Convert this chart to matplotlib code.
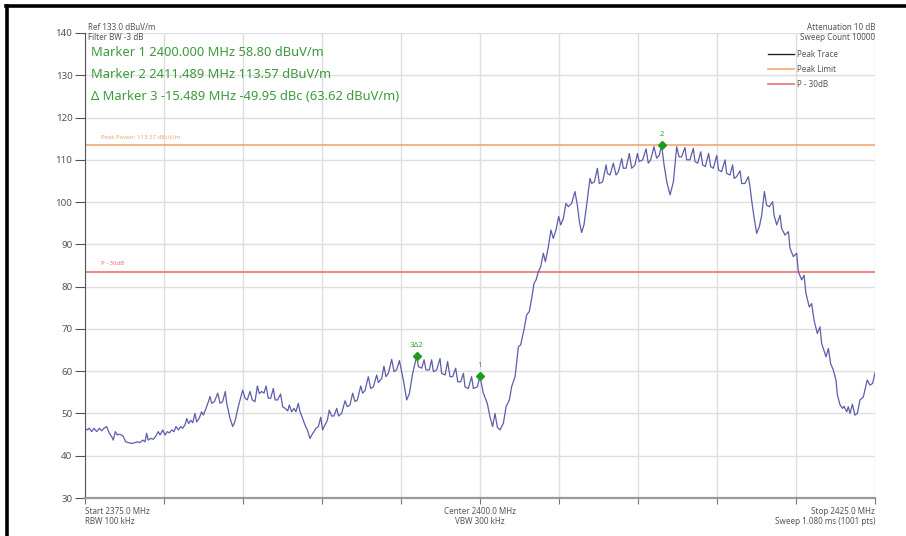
"""
Espectro medido 2375-2425 MHz (Peak Trace) com marcadores e linhas de limite.
Saída: out.png (906x536)
"""

import matplotlib.pyplot as plt
from matplotlib.lines import Line2D

# ------------------------------------------------------------------
# Dados (lidos da captura do analisador)
# ------------------------------------------------------------------
FREQ_MHZ = [
    2375.00, 2375.15, 2375.27, 2375.42, 2375.57, 2375.74, 2375.91, 2376.06, 2376.20, 2376.37,
    2376.54, 2376.69, 2376.79, 2376.92, 2377.05, 2377.17, 2377.32, 2377.43, 2377.57, 2377.74,
    2377.95, 2378.17, 2378.31, 2378.48, 2378.65, 2378.80, 2378.90, 2379.00, 2379.16, 2379.33,
    2379.49, 2379.64, 2379.75, 2379.92, 2380.06, 2380.21, 2380.34, 2380.49, 2380.63, 2380.76,
    2380.91, 2381.06, 2381.18, 2381.33, 2381.44, 2381.56, 2381.69, 2381.82, 2381.96, 2382.07,
    2382.22, 2382.38, 2382.49, 2382.66, 2382.81, 2382.91, 2383.02, 2383.19, 2383.40, 2383.55,
    2383.71, 2383.88, 2383.97, 2384.18, 2384.35, 2384.49, 2384.70,
    2384.98, 2385.13, 2385.27, 2385.44, 2385.59, 2385.76, 2385.91, 2386.03, 2386.18, 2386.33,
    2386.46, 2386.60, 2386.75, 2386.92, 2387.03, 2387.19, 2387.38, 2387.51, 2387.66, 2387.83,
    2387.93, 2388.08, 2388.23, 2388.35, 2388.50, 2388.61, 2388.78, 2388.92, 2389.07, 2389.24,
    2389.35, 2389.49, 2389.62, 2389.77, 2389.92, 2390.04, 2390.19, 2390.34, 2390.46, 2390.61,
    2390.76, 2390.93, 2391.05, 2391.24, 2391.46, 2391.60, 2391.77, 2391.94, 2392.09, 2392.24,
    2392.45, 2392.57, 2392.72, 2392.93, 2393.08, 2393.25, 2393.46, 2393.57, 2393.78, 2393.92,
    2394.05, 2394.20, 2394.41, 2394.56, 2394.73, 2394.90,
    2395.15, 2395.36, 2395.53, 2395.74, 2396.00, 2396.10, 2396.31, 2396.46, 2396.58, 2396.79,
    2396.94, 2397.05, 2397.26, 2397.47, 2397.57, 2397.79, 2397.95, 2398.10, 2398.27, 2398.46,
    2398.59, 2398.78, 2398.95, 2399.05, 2399.26, 2399.47, 2399.58, 2399.83, 2400.00, 2400.21,
    2400.46, 2400.63, 2400.80, 2400.95, 2401.10, 2401.27, 2401.48, 2401.65, 2401.86, 2402.00,
    2402.22, 2402.43, 2402.57, 2402.78, 2402.95, 2403.12, 2403.27, 2403.42, 2403.55, 2403.69,
    2403.84, 2404.01, 2404.14, 2404.33, 2404.49, 2404.64, 2404.81, 2404.98,
    2405.11, 2405.27, 2405.44, 2405.59, 2405.80, 2406.01, 2406.16, 2406.29, 2406.43, 2406.58,
    2406.75, 2406.96, 2407.07, 2407.24, 2407.43, 2407.55, 2407.76, 2407.98, 2408.06, 2408.23,
    2408.44, 2408.61, 2408.76, 2408.97, 2409.07, 2409.24, 2409.45, 2409.60, 2409.81, 2409.96,
    2410.08, 2410.30, 2410.51, 2410.65, 2410.80, 2411.01, 2411.18, 2411.35, 2411.489, 2411.65,
    2411.82, 2412.03, 2412.24, 2412.45, 2412.60, 2412.76, 2412.97, 2413.08, 2413.29, 2413.50,
    2413.61, 2413.78, 2413.97, 2414.09, 2414.26, 2414.47, 2414.60, 2414.77, 2414.98, 2415.10,
    2415.29,
    2415.51, 2415.61, 2415.82, 2415.99, 2416.08, 2416.24, 2416.46, 2416.56, 2416.77, 2416.98,
    2417.09, 2417.19, 2417.34, 2417.51, 2417.68, 2417.83, 2418.00, 2418.14, 2418.31, 2418.52,
    2418.61, 2418.78, 2418.99, 2419.09, 2419.30, 2419.52, 2419.62, 2419.83, 2420.04, 2420.15,
    2420.36, 2420.51, 2420.63, 2420.84, 2420.99, 2421.14, 2421.35, 2421.52, 2421.62, 2421.90,
    2422.05, 2422.19, 2422.36, 2422.53, 2422.62, 2422.79, 2422.95, 2423.04, 2423.21, 2423.31,
    2423.42, 2423.57, 2423.73, 2423.88, 2424.05, 2424.26, 2424.51, 2424.68, 2424.85, 2425.00,
]

LEVEL_DBUV = [
    46.5, 46.1, 46.5, 45.7, 46.5, 45.7, 46.5, 45.9, 46.5, 46.9,
    45.3, 44.5, 43.7, 45.7, 44.9, 45.1, 44.9, 44.5, 43.3, 43.1,
    42.9, 43.1, 43.3, 43.1, 43.7, 43.3, 45.3, 43.7, 44.1, 43.9,
    44.7, 45.7, 44.9, 46.1, 44.9, 45.7, 45.4, 46.1, 45.7, 46.9,
    46.1, 46.9, 46.5, 47.3, 48.8, 47.6, 48.4, 47.8, 50.0, 48.0,
    48.8, 50.4, 49.6, 51.2, 52.8, 54.0, 52.4, 52.8, 54.8, 52.4,
    52.8, 55.2, 52.4, 48.8, 46.9, 48.1, 51.6,
    55.5, 53.6, 53.2, 55.2, 53.2, 52.8, 56.5, 54.7, 55.2, 54.8,
    56.5, 53.6, 53.6, 55.9, 53.2, 53.2, 54.6, 51.6, 51.2, 50.6,
    52.0, 50.4, 51.2, 50.4, 52.4, 50.4, 48.8, 47.3, 46.1, 44.1,
    44.9, 45.7, 46.5, 46.9, 49.1, 46.1, 47.3, 48.4, 50.8, 49.4,
    49.4, 51.2, 49.4, 50.0, 53.0, 51.6, 52.0, 54.8, 52.8, 53.2,
    56.5, 54.8, 55.4, 58.7, 55.9, 56.3, 59.1, 57.3, 58.3, 61.2,
    58.7, 59.5, 62.8, 59.9, 60.4, 62.5,
    57.9, 53.2, 54.7, 59.5, 63.62, 61.1, 60.7, 62.7, 60.3, 60.3,
    62.7, 59.9, 60.3, 63.0, 59.5, 59.1, 62.3, 58.7, 58.7, 60.7,
    57.5, 57.5, 59.5, 56.3, 55.9, 58.7, 55.9, 56.3, 58.80, 54.8,
    52.4, 49.2, 46.9, 50.0, 46.7, 46.1, 47.7, 51.6, 53.2, 56.3,
    58.7, 65.8, 66.2, 69.7, 73.3, 74.1, 77.2, 80.8, 81.6, 83.5,
    84.7, 87.9, 85.9, 89.5, 93.4, 91.4, 93.4, 96.6,
    94.6, 96.1, 99.7, 98.9, 99.7, 102.5, 99.3, 95.4, 92.8, 94.6,
    99.3, 105.6, 104.4, 104.8, 108.0, 104.4, 104.8, 108.8, 106.8, 106.4,
    109.2, 106.4, 107.2, 110.3, 108.0, 108.0, 111.5, 108.0, 108.8, 111.5,
    109.6, 110.0, 112.6, 109.2, 110.0, 113.1, 110.4, 111.1, 113.57, 108.8,
    104.8, 101.7, 104.8, 113.1, 110.7, 110.7, 112.9, 110.0, 110.0, 112.7,
    109.6, 109.2, 111.9, 108.8, 108.4, 111.5, 108.4, 108.0, 111.0, 107.6,
    107.2,
    110.0, 106.8, 106.4, 108.8, 105.6, 106.0, 107.4, 104.4, 104.4, 106.0,
    103.6, 100.5, 96.5, 92.6, 94.2, 96.9, 102.5, 99.3, 98.9, 100.1,
    96.9, 94.6, 96.9, 93.8, 92.2, 93.0, 89.1, 87.1, 87.9, 83.5,
    81.6, 82.7, 78.4, 75.2, 76.0, 72.1, 68.9, 70.5, 66.6, 63.4,
    65.4, 61.8, 60.3, 57.9, 54.4, 52.0, 51.2, 51.7, 50.4, 51.6,
    50.0, 52.2, 49.6, 50.0, 53.2, 53.9, 57.9, 56.7, 57.1, 59.6,
]

# Marcadores: rótulo, frequência, nível
MARKER_LABELS = ["1", "2", "3\u03942"]
MARKER_FREQ = [2400.000, 2411.489, 2396.000]
MARKER_LEVEL = [58.80, 113.57, 63.62]

PEAK_LIMIT = 113.57
P_30DB = PEAK_LIMIT - 30

X_TICKS = [2375, 2380, 2385, 2390, 2395, 2400, 2405, 2410, 2415, 2420, 2425]
Y_TICKS = [30, 40, 50, 60, 70, 80, 90, 100, 110, 120, 130, 140]

# ------------------------------------------------------------------
# Estilo
# ------------------------------------------------------------------
plt.rcParams["font.family"] = ["Noto Sans", "DejaVu Sans"]

W, H = 906, 536
TRACE_COLOR = "#5d5dab"
LIMIT_COLOR = "#f4a673"
P30_COLOR = "#ef6f6f"
GREEN = "#3c9a3c"
TEXT_GRAY = "#555555"


def fx(px):
    return px / W


def fy(py):
    return 1 - py / H


fig = plt.figure(figsize=(W / 100, H / 100), dpi=100)
ax = fig.add_axes([fx(85), fy(498), fx(875) - fx(85), fy(33) - fy(498)])

# grade
ax.set_xlim(2375, 2425)
ax.set_ylim(30, 140)
ax.set_xticks(X_TICKS)
ax.set_yticks(Y_TICKS)
ax.set_xticklabels([])
ax.grid(True, color="#dedede", lw=1.0)
ax.set_axisbelow(True)

for s in ["top", "right"]:
    ax.spines[s].set_visible(False)
ax.spines["left"].set_color("#555555")
ax.spines["left"].set_linewidth(0.8)
ax.spines["bottom"].set_color("#9a9a9a")
ax.spines["bottom"].set_linewidth(1.6)

ax.tick_params(axis="y", direction="out", length=7, width=0.8, color="#555555",
               labelsize=7, labelcolor=TEXT_GRAY, pad=2)
ax.tick_params(axis="x", direction="out", length=4, width=0.8, color="#777777")

# linhas de limite
l_lim = ax.axhline(PEAK_LIMIT, color=LIMIT_COLOR, lw=1.2, zorder=2)
l_p30 = ax.axhline(P_30DB, color=P30_COLOR, lw=1.2, zorder=2)
ax.text(2376.0, PEAK_LIMIT + 1.2, "Peak Power: 113.57 dBuV/m", color=LIMIT_COLOR,
        fontsize=4.3, va="bottom", ha="left")
ax.text(2376.0, P_30DB + 1.2, "P - 30dB", color=P30_COLOR, fontsize=4.3,
        va="bottom", ha="left")

# traço
ax.plot(FREQ_MHZ, LEVEL_DBUV, color=TRACE_COLOR, lw=0.9, zorder=3)

# marcadores
ax.plot(MARKER_FREQ, MARKER_LEVEL, ls="none", marker="D", ms=3.6,
        color="#1f9a1f", zorder=4)
for lab, f, v in zip(MARKER_LABELS, MARKER_FREQ, MARKER_LEVEL):
    ax.annotate(lab, (f, v), xytext=(0, 5), textcoords="offset points",
                ha="center", va="bottom", fontsize=5.5, color=GREEN)

# ------------------------------------------------------------------
# Textos de cabeçalho / rodapé
# ------------------------------------------------------------------
fig.text(fx(88), fy(27), "Ref 133.0 dBuV/m", fontsize=5.8, color=TEXT_GRAY, va="center")
fig.text(fx(88), fy(37), "Filter BW -3 dB", fontsize=5.8, color=TEXT_GRAY, va="center")

fig.text(fx(91), fy(53), "Marker 1 2400.000 MHz 58.80 dBuV/m", fontsize=9.3,
         color=GREEN, va="center")
fig.text(fx(91), fy(75), "Marker 2 2411.489 MHz 113.57 dBuV/m", fontsize=9.3,
         color=GREEN, va="center")
fig.text(fx(91), fy(96), "\u0394 Marker 3 -15.489 MHz -49.95 dBc (63.62 dBuV/m)",
         fontsize=9.3, color=GREEN, va="center")

fig.text(fx(875), fy(27), "Attenuation 10 dB", fontsize=5.8, color=TEXT_GRAY,
         va="center", ha="right")
fig.text(fx(875), fy(38), "Sweep Count 10000", fontsize=5.8, color=TEXT_GRAY,
         va="center", ha="right")

handles = [
    Line2D([], [], color="#222233", lw=1.0),
    Line2D([], [], color=LIMIT_COLOR, lw=1.2),
    Line2D([], [], color=P30_COLOR, lw=1.2),
]
fig.legend(handles, ["Peak Trace", "Peak Limit", "P - 30dB"], loc="upper left",
           bbox_to_anchor=(fx(768), fy(50)), frameon=False, fontsize=5.8,
           handlelength=3.2, handletextpad=0.4, labelspacing=0.75,
           labelcolor=TEXT_GRAY, borderaxespad=0, borderpad=0)

fig.text(fx(85), fy(511), "Start 2375.0 MHz", fontsize=5.8, color=TEXT_GRAY, va="center")
fig.text(fx(85), fy(522), "RBW 100 kHz", fontsize=5.8, color=TEXT_GRAY, va="center")
fig.text(fx(480), fy(511), "Center 2400.0 MHz", fontsize=5.8, color=TEXT_GRAY,
         va="center", ha="center")
fig.text(fx(480), fy(522), "VBW 300 kHz", fontsize=5.8, color=TEXT_GRAY,
         va="center", ha="center")
fig.text(fx(875), fy(511), "Stop 2425.0 MHz", fontsize=5.8, color=TEXT_GRAY,
         va="center", ha="right")
fig.text(fx(875), fy(522), "Sweep 1.080 ms (1001 pts)", fontsize=5.8, color=TEXT_GRAY,
         va="center", ha="right")

# moldura preta (topo e esquerda) da captura
fig.add_artist(Line2D([fx(7), fx(7)], [0, fy(6)], color="black", lw=2.6))
fig.add_artist(Line2D([fx(6), 1], [fy(6), fy(6)], color="black", lw=2.6))

fig.savefig("out.png", dpi=100)
print("salvo out.png")
